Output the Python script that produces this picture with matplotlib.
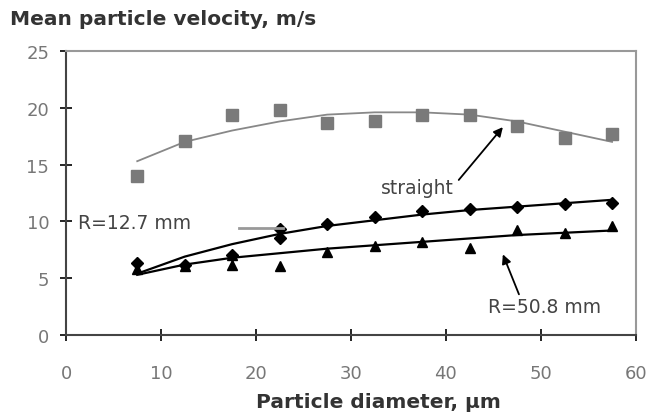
import matplotlib.pyplot as plt
import numpy as np

plt.rcParams['font.family'] = ['DejaVu Sans']

# particle diameter, um
diam = [7.5, 12.5, 17.5, 22.5, 27.5, 32.5, 37.5, 42.5, 47.5, 52.5, 57.5]

# straight duct (squares) and trend line
v_straight = [14.0, 17.1, 19.4, 19.8, 18.7, 18.8, 19.4, 19.4, 18.4, 17.3, 17.7]
t_straight = [15.3, 17.0, 18.0, 18.8, 19.4, 19.6, 19.6, 19.4, 18.8, 17.9, 17.0]

# R=12.7 mm (diamonds)
v_r127 = [6.3, 6.2, 7.0, 8.5, 9.8, 10.4, 10.9, 11.1, 11.3, 11.5, 11.6]
t_r127 = [5.4, 6.9, 8.0, 8.9, 9.6, 10.1, 10.6, 11.0, 11.3, 11.6, 11.9]

# R=50.8 mm (triangles)
v_r508 = [5.8, 6.1, 6.2, 6.1, 7.3, 7.8, 8.2, 7.7, 9.2, 9.0, 9.6]
t_r508 = [5.3, 6.2, 6.8, 7.2, 7.6, 7.9, 8.2, 8.5, 8.8, 9.0, 9.2]

# a few doubled points seen in the picture
extra_x_d = [22.5]
extra_v_d = [9.3]
extra_x_t = [17.5]
extra_v_t = [7.0]

fig = plt.figure(figsize=(6.49, 4.14), dpi=100)
ax = fig.add_axes([0.1017, 0.1884, 0.878, 0.686])

ax.plot(diam, t_straight, color='#888888', lw=1.3)
ax.plot(diam, v_straight, 's', color='#7a7a7a', ms=8, mec='#7a7a7a')

ax.plot(diam, t_r127, color='black', lw=1.6)
ax.plot(diam, v_r127, 'D', color='black', ms=6)
ax.plot(extra_x_d, extra_v_d, 'D', color='black', ms=6)

ax.plot(diam, t_r508, color='black', lw=1.6)
ax.plot(diam, v_r508, '^', color='black', ms=7)
ax.plot(extra_x_t, extra_v_t, '^', color='black', ms=7)

ax.set_xlim(0, 60)
ax.set_ylim(0, 25)
ax.set_xticks(range(0, 61, 10))
ax.set_yticks(range(0, 26, 5))
ax.tick_params(direction='inout', length=8, width=1.2, labelsize=13,
               labelcolor='#777777', pad=8)
ax.tick_params(axis='x', pad=17)
for s in ['left', 'bottom']:
    ax.spines[s].set_color('#444444')
    ax.spines[s].set_linewidth(1.5)
for s in ['top', 'right']:
    ax.spines[s].set_color('#999999')
    ax.spines[s].set_linewidth(1.5)

ax.annotate('straight', xy=(46.0, 18.3), xytext=(33.2, 13.0),
            fontsize=13.5, color='#444444', va='center',
            arrowprops=dict(arrowstyle='-|>', color='black', lw=1.3,
                            shrinkA=2, shrinkB=0, relpos=(1.0, 0.6)))
ax.text(1.3, 9.9, 'R=12.7 mm', fontsize=13.5, color='#444444', va='center')
ax.plot([18.2, 22.8], [9.45, 9.45], color='#999999', lw=2)
ax.annotate('R=50.8 mm', xy=(46.0, 7.1), xytext=(44.4, 2.5),
            fontsize=13.5, color='#444444', va='center',
            arrowprops=dict(arrowstyle='-|>', color='black', lw=1.3,
                            shrinkA=0, shrinkB=0, relpos=(0.3, 0.8)))

fig.text(0.015, 0.952, 'Mean particle velocity, m/s', fontsize=14.5,
         fontweight='bold', color='#333333', va='center')
fig.text(0.583, 0.027, 'Particle diameter, \u00b5m', fontsize=14.5,
         fontweight='bold', color='#333333', ha='center', va='center')

fig.savefig('out.png', dpi=100)
